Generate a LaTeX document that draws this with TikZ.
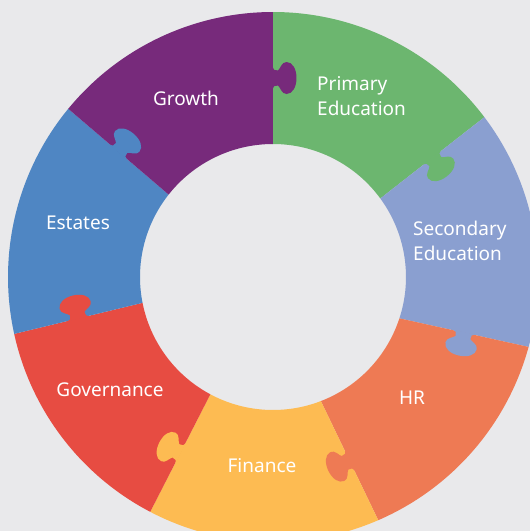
\documentclass[tikz,border=0pt]{standalone}
\usepackage{fontspec}
\setmainfont{Noto Sans}
\definecolor{bgc}{HTML}{E9E9EB}
\definecolor{cGrowth}{HTML}{772A7B}
\definecolor{cPrimary}{HTML}{6CB66F}
\definecolor{cSecondary}{HTML}{8A9FD0}
\definecolor{cHR}{HTML}{EE7A54}
\definecolor{cFinance}{HTML}{FDBB52}
\definecolor{cGovernance}{HTML}{E74C42}
\definecolor{cEstates}{HTML}{4F86C3}
\begin{document}
\begin{tikzpicture}[x=1pt,y=1pt,
  lbl/.style={text=white, font=\fontsize{19}{25}\selectfont, inner sep=0pt}]
\fill[bgc] (-273,-254) rectangle (257,277);
\useasboundingbox (-273,-254) rectangle (257,277);
% ring segments: outer start/end angle, inner start/end angle, colour
\foreach \so/\eo/\si/\ei/\c in {
    90/37.1/90/36.2/cPrimary,
    37.1/-15.3/36.2/-18.1/cSecondary,
    -15.3/-66.6/-18.1/-68.9/cHR,
    -66.6/-117.6/-68.9/-118.1/cFinance,
    -117.6/-167.6/-118.1/-168.8/cGovernance,
    -167.6/-219.4/-168.8/-218.3/cEstates,
    140.6/90/141.7/90/cGrowth}{
  \fill[\c] (\so:265) arc[start angle=\so, end angle=\eo, radius=265]
     -- (\ei:133) arc[start angle=\ei, end angle=\si, radius=133] -- cycle;
}
% puzzle tabs: inner angle, outer angle of the boundary, colour of the piece it belongs to
\foreach \ai/\ao/\c in {90/90/cGrowth, 36.2/37.1/cPrimary, -18.1/-15.3/cSecondary,
                   -68.9/-66.6/cHR, -118.1/-117.6/cFinance, -168.8/-167.6/cGovernance,
                   141.7/140.6/cEstates}{
  \pgfmathsetmacro{\xi}{133*cos(\ai)}
  \pgfmathsetmacro{\yi}{133*sin(\ai)}
  \pgfmathsetmacro{\xo}{265*cos(\ao)}
  \pgfmathsetmacro{\yo}{265*sin(\ao)}
  \pgfmathsetmacro{\px}{(\xi+\xo)/2}
  \pgfmathsetmacro{\py}{(\yi+\yo)/2}
  \pgfmathsetmacro{\dd}{atan2(\yo-\yi,\xo-\xi)+180}
  \begin{scope}[shift={(\px,\py)}, rotate=\dd]
    \fill[\c] (-11.5,-0.6) .. controls (-8.5,-0.6) and (-7,2) .. (-7.5,5)
        .. controls (-9.5,7.5) and (-16,8.5) .. (-16,13.5)
        .. controls (-16,19.5) and (-9,23.5) .. (0,23.5)
        .. controls (9,23.5) and (16,19.5) .. (16,13.5)
        .. controls (16,8.5) and (9.5,7.5) .. (7.5,5)
        .. controls (7,2) and (8.5,-0.6) .. (11.5,-0.6) -- cycle;
  \end{scope}
}
% labels
\node[lbl] (growth) at (-87,179) {Growth};
\node[lbl, anchor=west, align=left] (primary) at (44,181) {Primary\\Education};
\node[lbl, anchor=west, align=left] (secondary) at (140,36) {Secondary\\Education};
\node[lbl] (estates) at (-195,54) {Estates};
\node[lbl] (governance) at (-163,-113) {Governance};
\node[lbl] (hr) at (139,-121) {HR};
\node[lbl] (finance) at (-11,-189) {Finance};
\end{tikzpicture}
\end{document}
